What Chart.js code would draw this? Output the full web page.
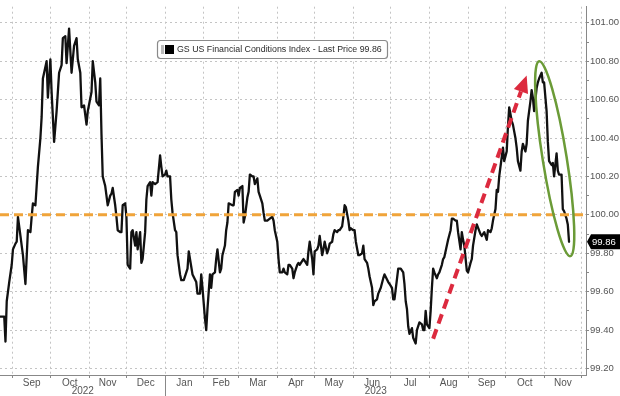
<!DOCTYPE html>
<html>
<head>
<meta charset="utf-8">
<script src="https://cdn.jsdelivr.net/npm/chart.js@4.4.0/dist/chart.umd.min.js"></script>
<style>
  html, body { margin: 0; padding: 0; background: #fff; }
</style>
</head>
<body>
<canvas id="fci" width="620" height="396"></canvas>
<script>
// ---------------- DATA ----------------

// x = days since 1 Sep 2022
const days = [
  -10, -7, -6, -5, -3, -1, 0, 2, 3, 4,
  6, 7, 8, 10, 12, 14, 15, 16, 18, 19,
  20, 22, 23, 24, 27, 28, 30, 31, 33, 35,
  37, 39, 40, 42, 43, 45, 47, 49, 51, 52,
  54, 55, 57, 59, 60, 63, 64, 66, 67, 69,
  70, 71, 72, 74, 76, 78, 79, 80, 82, 83,
  84, 86, 87, 88, 90, 91, 92, 94, 95, 96,
  98, 99, 100, 102, 103, 104, 106, 107, 108, 110,
  111, 112, 114, 116, 118, 119, 120, 122, 123, 124,
  126, 127, 128, 130, 131, 132, 134, 135, 137, 140,
  141, 143, 144, 147, 148, 150, 151, 152, 154, 155,
  156, 158, 159, 160, 162, 163, 164, 166, 167, 168,
  170, 171, 172, 173, 176, 177, 178, 180, 181, 182,
  184, 185, 186, 188, 189, 190, 192, 193, 194, 196,
  197, 198, 200, 201, 202, 204, 206, 208, 209, 210,
  212, 213, 214, 216, 217, 218, 220, 221, 222, 224,
  225, 226, 228, 229, 230, 232, 233, 234, 236, 237,
  238, 240, 241, 242, 244, 245, 246, 248, 249, 250,
  252, 253, 254, 256, 257, 258, 260, 261, 262, 264,
  265, 266, 267, 269, 270, 271, 273, 274, 275, 277,
  278, 280, 281, 282, 284, 285, 286, 288, 289, 290,
  292, 293, 295, 297, 298, 301, 302, 304, 305, 306,
  309, 311, 313, 314, 315, 316, 317, 318, 320, 321,
  323, 324, 326, 328, 329, 330, 331, 332, 334, 335,
  336, 337, 338, 340, 341, 342, 344, 345, 346, 348,
  349, 351, 352, 353, 355, 356, 357, 359, 360, 361,
  362, 364, 365, 367, 368, 369, 371, 372, 375, 376,
  378, 380, 381, 383, 384, 385, 387, 388, 389, 390,
  392, 393, 394, 396, 397, 398, 400, 401, 403, 404,
  405, 407, 408, 409, 411, 412, 413, 415, 416, 417,
  418, 420, 421, 422, 424, 425, 426, 428, 429, 430,
  432, 433, 434, 436, 437, 438, 440, 441, 442, 444,
  445, 446
];

const values = [
  99.47, 99.47, 99.34, 99.55, 99.65, 99.74, 99.82, 99.85, 99.86, 99.99,
  99.89, 99.84, 99.79, 99.64, 99.92, 99.91, 99.99, 100.06, 100.05, 100.15,
  100.25, 100.40, 100.51, 100.71, 100.80, 100.61, 100.81, 100.64, 100.38, 100.54,
  100.74, 100.78, 100.92, 100.93, 100.79, 100.97, 100.74, 100.88, 100.92, 100.81,
  100.74, 100.56, 100.57, 100.47, 100.54, 100.64, 100.80, 100.69, 100.59, 100.57,
  100.71, 100.42, 100.20, 100.15, 100.05, 100.10, 100.11, 100.14, 100.05, 99.99,
  99.92, 99.91, 99.91, 100.05, 100.06, 99.99, 99.74, 99.72, 99.91, 99.92,
  99.84, 99.91, 99.82, 99.91, 99.75, 99.77, 99.91, 100.08, 100.15, 100.17,
  100.10, 100.17, 100.16, 100.17, 100.31, 100.25, 100.20, 100.21, 100.23, 100.20,
  100.20, 100.08, 100.01, 99.92, 99.91, 99.79, 99.69, 99.66, 99.66, 99.72,
  99.81, 99.73, 99.69, 99.65, 99.59, 99.59, 99.69, 99.62, 99.46, 99.40,
  99.51, 99.69, 99.62, 99.69, 99.70, 99.77, 99.82, 99.70, 99.72, 99.79,
  99.84, 99.92, 99.96, 100.06, 100.05, 100.05, 100.12, 100.13, 100.10, 100.14,
  100.15, 99.96, 99.99, 100.09, 100.12, 100.21, 100.20, 100.20, 100.16, 100.19,
  100.12, 100.10, 100.06, 100.01, 99.97, 99.97, 99.98, 99.99, 99.97, 99.92,
  99.86, 99.77, 99.70, 99.70, 99.72, 99.70, 99.69, 99.74, 99.74, 99.72,
  99.67, 99.70, 99.74, 99.75, 99.74, 99.76, 99.77, 99.76, 99.74, 99.81,
  99.86, 99.77, 99.69, 99.81, 99.82, 99.84, 99.89, 99.79, 99.82, 99.86,
  99.80, 99.82, 99.85, 99.86, 99.90, 99.92, 99.91, 99.92, 99.92, 99.94,
  99.99, 100.05, 100.04, 99.97, 99.92, 99.93, 99.92, 99.92, 99.86, 99.79,
  99.79, 99.80, 99.84, 99.77, 99.75, 99.72, 99.68, 99.62, 99.53, 99.55,
  99.56, 99.59, 99.62, 99.67, 99.69, 99.65, 99.64, 99.62, 99.56, 99.56,
  99.72, 99.72, 99.70, 99.64, 99.55, 99.51, 99.42, 99.38, 99.41, 99.36,
  99.33, 99.40, 99.44, 99.43, 99.40, 99.40, 99.50, 99.43, 99.41, 99.50,
  99.62, 99.72, 99.70, 99.67, 99.69, 99.70, 99.74, 99.77, 99.78, 99.84,
  99.87, 99.92, 99.98, 99.98, 99.97, 99.97, 99.91, 99.82, 99.91, 99.87,
  99.84, 99.71, 99.70, 99.75, 99.77, 99.84, 99.92, 99.95, 99.90, 99.89,
  99.91, 99.87, 99.92, 99.91, 99.93, 99.97, 100.03, 100.13, 100.12, 100.20,
  100.30, 100.35, 100.28, 100.33, 100.46, 100.56, 100.49, 100.47, 100.40, 100.35,
  100.28, 100.23, 100.33, 100.37, 100.33, 100.37, 100.49, 100.59, 100.65, 100.61,
  100.54, 100.66, 100.69, 100.71, 100.74, 100.69, 100.69, 100.54, 100.38, 100.28,
  100.26, 100.27, 100.20, 100.32, 100.23, 100.21, 100.21, 100.03, 100.02, 99.98,
  99.95, 99.86
];

// month boundaries (days since 1 Sep 2022) and labels
const monthStarts = [0, 30, 61, 91, 122, 153, 181, 212, 242, 273, 303, 334, 365, 395, 426, 456];
const monthNames = ['Sep', 'Oct', 'Nov', 'Dec', 'Jan', 'Feb', 'Mar', 'Apr', 'May', 'Jun', 'Jul', 'Aug', 'Sep', 'Oct', 'Nov'];
const yearNames = ['2022', '2023'];
const yearBreak = 122; // 1 Jan 2023

const yMajor = [99.2, 99.4, 99.6, 99.8, 100.0, 100.2, 100.4, 100.6, 100.8, 101.0];
const yMinor = [99.3, 99.5, 99.7, 99.9, 100.1, 100.3, 100.5, 100.7, 100.9];

const seriesName = 'GS US Financial Conditions Index - Last Price 99.86';
const lastPrice = 99.86;
const pivotLevel = 100;

// annotations, in data units (day, value)
const arrowFrom = [337, 99.355];
const arrowTo = [412, 100.726];
const ellipseTop = [422, 100.80];
const ellipseBottom = [447, 99.785];

const X_MIN = -10.4, X_MAX = 459.6;
const Y_MIN = 99.166, Y_MAX = 101.084;

const FONT = '"Liberation Sans", Arial, sans-serif';
Chart.defaults.font.family = FONT;

const isMajor = v => Math.round(v * 10) % 2 === 0;
const monthMids = monthNames.map((m, i) => (monthStarts[i] + monthStarts[i + 1]) / 2);

// -------- OVERLAYS --------

const overlays = {
  id: 'overlays',
  afterDraw(chart) {
    const { ctx, chartArea: area } = chart;
    const x = chart.scales.x, y = chart.scales.y;
    const px = p => ({ x: x.getPixelForValue(p[0]), y: y.getPixelForValue(p[1]) });

    ctx.save();

    // red dashed arrow
    const a = px(arrowFrom), b = px(arrowTo);
    const ang = Math.atan2(b.y - a.y, b.x - a.x);
    const head = 17, half = 7.5;
    const bx = b.x - head * Math.cos(ang), by = b.y - head * Math.sin(ang);
    ctx.strokeStyle = '#dc2a3e';
    ctx.lineWidth = 4;
    ctx.setLineDash([10, 6]);
    ctx.beginPath();
    ctx.moveTo(a.x, a.y);
    ctx.lineTo(bx, by);
    ctx.stroke();
    ctx.setLineDash([]);
    ctx.fillStyle = '#dc2a3e';
    ctx.beginPath();
    ctx.moveTo(b.x, b.y);
    ctx.lineTo(bx + half * Math.sin(ang), by - half * Math.cos(ang));
    ctx.lineTo(bx - half * Math.sin(ang), by + half * Math.cos(ang));
    ctx.closePath();
    ctx.fill();

    // green ellipse
    const e1 = px(ellipseTop), e2 = px(ellipseBottom);
    ctx.strokeStyle = '#6b9b37';
    ctx.lineWidth = 2.5;
    ctx.beginPath();
    ctx.ellipse((e1.x + e2.x) / 2, (e1.y + e2.y) / 2,
      Math.hypot(e2.x - e1.x, e2.y - e1.y) / 2, 12,
      Math.atan2(e2.y - e1.y, e2.x - e1.x), 0, Math.PI * 2);
    ctx.stroke();

    // year separator + year labels
    const xb = Math.round(x.getPixelForValue(yearBreak)) + 0.5;
    ctx.strokeStyle = '#888';
    ctx.lineWidth = 1;
    ctx.beginPath();
    ctx.moveTo(xb, area.bottom);
    ctx.lineTo(xb, chart.height);
    ctx.stroke();
    ctx.fillStyle = '#555';
    ctx.font = '10px ' + FONT;
    ctx.textAlign = 'center';
    ctx.textBaseline = 'middle';
    ctx.fillText(yearNames[0], (area.left + xb) / 2, 391.5);
    ctx.fillText(yearNames[1], (xb + area.right) / 2, 391.5);

    // legend box
    ctx.fillStyle = '#fff';
    ctx.strokeStyle = '#8a8a8a';
    ctx.lineWidth = 1.2;
    ctx.beginPath();
    ctx.roundRect(157.5, 40.5, 230, 18, 3);
    ctx.fill();
    ctx.stroke();
    ctx.fillStyle = '#bbb';
    ctx.fillRect(161, 45, 3, 9);
    ctx.fillStyle = '#000';
    ctx.fillRect(165, 45, 9, 9);
    ctx.font = '10px ' + FONT;
    const fs = 10 * 205 / ctx.measureText(seriesName).width;
    ctx.font = fs.toFixed(2) + 'px ' + FONT;
    ctx.fillStyle = '#2a2a2a';
    ctx.textAlign = 'left';
    ctx.fillText(seriesName, 177, 50);

    // last price tag
    const ty = y.getPixelForValue(lastPrice);
    ctx.fillStyle = '#000';
    ctx.beginPath();
    ctx.moveTo(area.right + 1, ty);
    ctx.lineTo(area.right + 5, ty - 7.5);
    ctx.lineTo(chart.width, ty - 7.5);
    ctx.lineTo(chart.width, ty + 7.5);
    ctx.lineTo(area.right + 5, ty + 7.5);
    ctx.closePath();
    ctx.fill();
    ctx.fillStyle = '#fff';
    ctx.font = '9.5px ' + FONT;
    ctx.fillText(lastPrice.toFixed(2), area.right + 6, ty + 0.5);

    ctx.restore();
  }
};

// -------- CHART --------

new Chart(document.getElementById('fci'), {
  type: 'line',
  data: {
    datasets: [
      {
        label: 'level',
        data: [{ x: X_MIN, y: pivotLevel }, { x: X_MAX, y: pivotLevel }],
        borderColor: '#f0a43a',
        borderWidth: 3,
        borderDash: [9, 5],
        pointRadius: 0
      },
      {
        label: seriesName,
        data: days.map((d, i) => ({ x: d, y: values[i] })),
        borderColor: '#111',
        borderWidth: 2.3,
        borderJoinStyle: 'round',
        borderCapStyle: 'round',
        pointRadius: 0,
        tension: 0
      }
    ]
  },
  options: {
    responsive: false,
    animation: false,
    devicePixelRatio: 1,
    layout: { padding: 0 },
    plugins: { legend: { display: false }, tooltip: { enabled: false } },
    scales: {
      x: {
        type: 'linear',
        position: 'bottom',
        min: X_MIN,
        max: X_MAX,
        weight: 0,
        afterBuildTicks: s => { s.ticks = monthStarts.map(v => ({ value: v })); },
        afterFit: s => { s.height = 0; },
        ticks: { display: false },
        grid: { color: '#c4c4c4', lineWidth: 1, tickLength: 3, tickColor: '#888' },
        border: { display: false, dash: [2, 3] }
      },
      months: {
        type: 'linear',
        position: 'bottom',
        min: X_MIN,
        max: X_MAX,
        weight: 1,
        afterBuildTicks: s => { s.ticks = monthMids.map(v => ({ value: v })); },
        afterFit: s => { s.height = 21; },
        ticks: {
          autoSkip: false,
          maxRotation: 0,
          padding: 2,
          color: '#555',
          font: { size: 10 },
          callback: (v, i) => monthNames[i]
        },
        grid: { display: false, drawTicks: false },
        border: { display: true, color: '#888', width: 1 }
      },
      y: {
        position: 'right',
        min: Y_MIN,
        max: Y_MAX,
        afterBuildTicks: s => {
          s.ticks = yMajor.concat(yMinor).sort((p, q) => p - q).map(v => ({ value: v }));
        },
        afterFit: s => { s.width = 34; },
        ticks: {
          autoSkip: false,
          padding: 1,
          color: '#555',
          font: { size: 9.5 },
          callback: v => isMajor(v) ? v.toFixed(2) : ''
        },
        grid: {
          color: c => (c.tick && isMajor(c.tick.value)) ? '#c4c4c4' : 'rgba(0,0,0,0)',
          tickColor: '#888',
          tickLength: 3
        },
        border: { display: true, color: '#888', dash: [2, 3] }
      }
    }
  },
  plugins: [overlays]
});
</script>
</body>
</html>
